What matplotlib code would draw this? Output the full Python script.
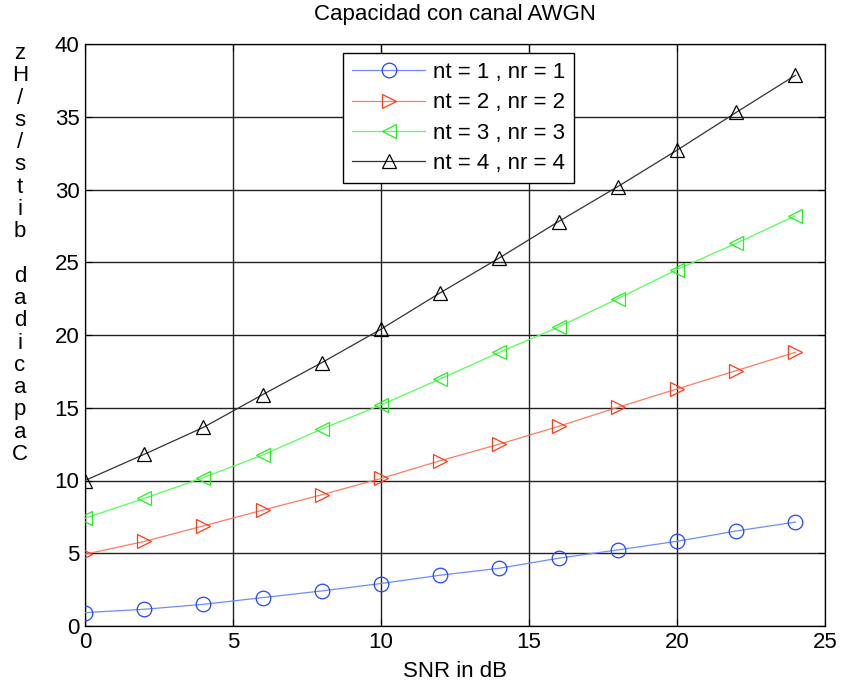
import matplotlib
matplotlib.use("Agg")
import matplotlib.pyplot as plt

snr_db = [0, 2, 4, 6, 8, 10, 12, 14, 16, 18, 20, 22, 24]
cap_1x1 = [0.92, 1.15, 1.49, 1.95, 2.41, 2.92, 3.49, 3.97, 4.66, 5.23, 5.82, 6.53, 7.14]
cap_2x2 = [4.93, 5.81, 6.88, 7.96, 9.02, 10.14, 11.36, 12.5, 13.72, 15.03, 16.29, 17.55, 18.81]
cap_3x3 = [7.41, 8.77, 10.2, 11.75, 13.54, 15.19, 16.98, 18.81, 20.55, 22.5, 24.5, 26.3, 28.2]
cap_4x4 = [10.0, 11.8, 13.65, 15.9, 18.1, 20.4, 22.9, 25.3, 27.8, 30.2, 32.7, 35.3, 37.85]
labels = ["nt = 1 , nr = 1", "nt = 2 , nr = 2", "nt = 3 , nr = 3", "nt = 4 , nr = 4"]
title = "Capacidad con canal AWGN"
xlabel = "SNR in dB"
ylabel = "Capacidad bits/s/Hz"

plt.rcParams['font.family'] = ['Liberation Sans', 'DejaVu Sans']
fs = 16

fig = plt.figure(figsize=(8.41, 6.85), dpi=100)
ax = fig.add_axes([85/841, 1 - 626/685, 740/841, 582/685])

series = [
    (cap_1x1, 'o', '#2244ff', '#6f8cff'),
    (cap_2x2, '>', '#ff3a1a', '#ff7a60'),
    (cap_3x3, '<', '#22ee22', '#55ff55'),
    (cap_4x4, '^', '#000000', '#333333'),
]
for (vals, mk, mc, lc), lab in zip(series, labels):
    ax.plot(snr_db, vals, color=lc, lw=0.9, marker=mk, markersize=10.5,
            markerfacecolor='none', markeredgecolor=mc, markeredgewidth=0.9,
            label=lab, zorder=3)

ax.set_xlim(0, 25)
ax.set_ylim(0, 40)
ax.set_xticks(range(0, 26, 5))
ax.set_yticks(range(0, 41, 5))
ax.grid(True, color='#222222', lw=1.0, ls='-')
ax.set_axisbelow(True)
ax.tick_params(direction='in', length=5, width=0.8, labelsize=fs, pad=4,
               top=True, right=True)
for s in ax.spines.values():
    s.set_linewidth(0.9)

ax.set_title(title, fontsize=fs, pad=17)
ax.set_xlabel(xlabel, fontsize=fs, labelpad=6)

stacked = "\n".join(list(ylabel[::-1]))
fig.text(20/841, 1 - 43/685, stacked, ha='center', va='top', fontsize=fs,
         linespacing=1.08)

leg = ax.legend(loc='upper center', bbox_to_anchor=(0.505, 0.992), fontsize=fs,
                frameon=True, fancybox=False, edgecolor='black', framealpha=1,
                handlelength=3.3, borderpad=0.4, labelspacing=0.42,
                handletextpad=0.35, borderaxespad=0.2)
leg.get_frame().set_linewidth(1.0)

fig.savefig("out.png", dpi=100)
